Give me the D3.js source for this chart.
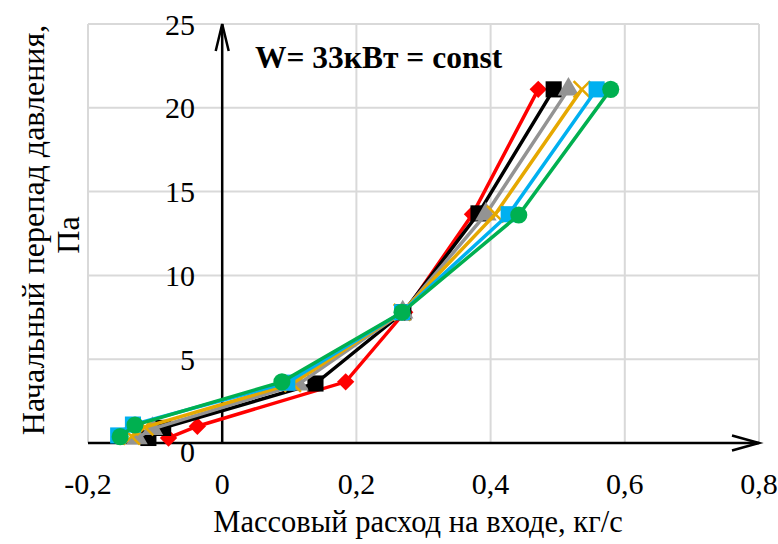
<!DOCTYPE html>
<html>
<head>
<meta charset="utf-8">
<script src="https://cdn.jsdelivr.net/npm/d3@7"></script>
<style>
  body { margin: 0; background: #fff; }
</style>
</head>
<body>
<div class="canvas"></div>
<script>
// values
const seriesNames = ["red", "black", "gray", "gold", "blue", "green"];
const redX   = [-0.080, -0.037, 0.184, 0.272, 0.373, 0.471];
const redY   = [0.30, 1.00, 3.65, 7.80, 13.65, 21.10];
const blackX = [-0.110, -0.088, 0.139, 0.270, 0.382, 0.494];
const blackY = [0.30, 0.90, 3.55, 7.80, 13.70, 21.10];
const grayX  = [-0.127, -0.104, 0.113, 0.269, 0.393, 0.516];
const grayY  = [0.30, 0.85, 3.50, 7.80, 13.65, 21.10];
const goldX  = [-0.135, -0.115, 0.105, 0.268, 0.407, 0.536];
const goldY  = [0.40, 0.95, 3.55, 7.80, 13.65, 21.10];
const blueX  = [-0.155, -0.133, 0.097, 0.268, 0.427, 0.558];
const blueY  = [0.45, 1.10, 3.60, 7.80, 13.65, 21.10];
const greenX = [-0.152, -0.130, 0.089, 0.268, 0.442, 0.579];
const greenY = [0.38, 1.07, 3.65, 7.80, 13.60, 21.10];

const xTicks = [-0.2, 0, 0.2, 0.4, 0.6, 0.8];
const yTicks = [0, 5, 10, 15, 20, 25];
const title = "W= 33кВт = const";
const xTitle = "Массовый расход на входе, кг/с";
const yTitle1 = "Начальный перепад давления,";
const yTitle2 = "Па";

const serif = "'Liberation Serif', 'Times New Roman', 'DejaVu Serif', serif";

let dim = { width: 778, height: 544 };
let svg = d3.select(".canvas").append("svg").attr("width", dim.width).attr("height", dim.height)
  .style("font-family", serif);

const x = d3.scaleLinear().domain([-0.2, 0.8]).range([88, 759]);
const y = d3.scaleLinear().domain([0, 25]).range([443, 24]);

const fmt = v => v === 0 ? "0" : d3.format(".1f")(v).replace(".", ",").replace("\u2212", "-");

// grid
const grid = svg.append("g").attr("stroke", "#d9d9d9").attr("stroke-width", 2);
xTicks.filter(v => v !== 0).forEach(v => {
  grid.append("line").attr("x1", x(v)).attr("x2", x(v)).attr("y1", y(0)).attr("y2", y(25));
});
yTicks.filter(v => v !== 0).forEach(v => {
  grid.append("line").attr("x1", x(-0.2)).attr("x2", x(0.8)).attr("y1", y(v)).attr("y2", y(v));
});

// axes with open arrows
const ax = svg.append("g").attr("stroke", "#000").attr("stroke-width", 2.5).attr("fill", "none");
ax.append("line").attr("x1", x(-0.2)).attr("x2", x(0.8)).attr("y1", y(0)).attr("y2", y(0));
ax.append("path").attr("d", `M${x(0.8) - 27},${y(0) - 7.5}L${x(0.8)},${y(0)}L${x(0.8) - 27},${y(0) + 7.5}`);
ax.append("line").attr("x1", x(0)).attr("x2", x(0)).attr("y1", y(0)).attr("y2", y(25));
ax.append("path").attr("d", `M${x(0) - 6.5},${y(25) + 27}L${x(0)},${y(25)}L${x(0) + 6.5},${y(25) + 27}`);

// tick labels
svg.append("g").selectAll("text").data(xTicks).join("text")
  .attr("x", d => x(d)).attr("y", 483)
  .attr("text-anchor", "middle").attr("dominant-baseline", "central")
  .attr("font-size", 30).text(d => fmt(d));
svg.append("g").selectAll("text").data(yTicks).join("text")
  .attr("x", 195).attr("y", d => d === 0 ? y(d) + 8 : y(d))
  .attr("text-anchor", "end").attr("dominant-baseline", "central")
  .attr("font-size", 30).text(d => d);

// titles
svg.append("text").attr("x", 255).attr("y", 68).attr("font-size", 31.5).attr("font-weight", "bold").text(title);
svg.append("text").attr("x", 418).attr("y", 522).attr("text-anchor", "middle")
  .attr("dominant-baseline", "central").attr("font-size", 30.5).text(xTitle);
svg.append("text").attr("transform", "translate(33,230) rotate(-90)").attr("text-anchor", "middle")
  .attr("dominant-baseline", "central").attr("font-size", 32).text(yTitle1);
svg.append("text").attr("transform", "translate(68,235) rotate(-90)").attr("text-anchor", "middle")
  .attr("dominant-baseline", "central").attr("font-size", 32).text(yTitle2);

// series
const series = [
  { name: "red",   xs: redX,   ys: redY,   color: "#ff0000", sym: d3.symbolSquare,   size: 150, rot: 45 },
  { name: "black", xs: blackX, ys: blackY, color: "#000000", sym: d3.symbolSquare,   size: 260, rot: 0 },
  { name: "gray",  xs: grayX,  ys: grayY,  color: "#939393", sym: d3.symbolTriangle, size: 200, rot: 0 },
  { name: "gold",  xs: goldX,  ys: goldY,  color: "#e6a800", sym: d3.symbolX,        size: 180, rot: 0, stroke: true },
  { name: "blue",  xs: blueX,  ys: blueY,  color: "#00b0f0", sym: d3.symbolSquare,   size: 260, rot: 0 },
  { name: "green", xs: greenX, ys: greenY, color: "#00b050", sym: d3.symbolCircle,   size: 230, rot: 0 }
];
const line = d3.line().x(d => x(d[0])).y(d => y(d[1]));

series.forEach(s => {
  const pts = s.xs.map((v, i) => [v, s.ys[i]]);
  const g = svg.append("g");
  g.append("path").datum(pts).attr("d", line)
    .attr("fill", "none").attr("stroke", s.color).attr("stroke-width", 3.5);
  g.selectAll("path.m").data(pts).join("path").attr("class", "m")
    .attr("transform", d => `translate(${x(d[0])},${y(d[1])}) rotate(${s.rot})`)
    .attr("d", d3.symbol(s.sym, s.size))
    .attr("fill", s.stroke ? "none" : s.color)
    .attr("stroke", s.stroke ? s.color : "none")
    .attr("stroke-width", 2.5);
});
</script>
</body>
</html>
